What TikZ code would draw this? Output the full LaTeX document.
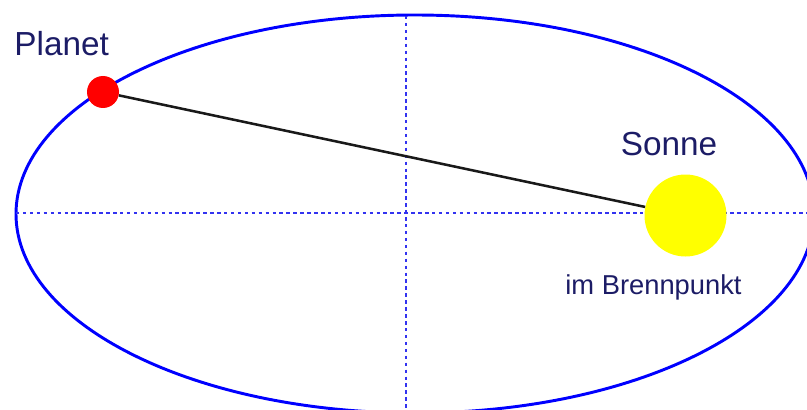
\documentclass[tikz,border=0pt]{standalone}
\usepackage{fontspec}
\setmainfont{Liberation Sans}
\usepackage{tikz}
\usetikzlibrary{positioning}
\definecolor{orbitblue}{HTML}{0000FF}
\definecolor{axisblue}{HTML}{3333F0}
\definecolor{planetred}{HTML}{FF0000}
\definecolor{sunyellow}{HTML}{FFFF00}
\definecolor{labelnavy}{HTML}{1C1C66}

\begin{document}
\begin{tikzpicture}[x=0.75pt, y=-0.75pt,
    axisline/.style={axisblue, line width=2pt, dash pattern=on 2.6pt off 2.6pt},
    lbl/.style={text=labelnavy, inner sep=0pt}]
  \useasboundingbox (0,0) rectangle (807,410);
  \clip (0,0) rectangle (807,410);
  % orbit with its two axes
  \draw[orbitblue, line width=2.2pt] (415,214) ellipse [x radius=399, y radius=199];
  \coordinate (axleft) at (16,213);
  \coordinate (axright) at (815,213);
  \coordinate (axtop) at (406,16);
  \coordinate (axbottom) at (406,415);
  \draw[axisline] (axleft) -- (axright);
  \draw[axisline] (axtop) -- (axbottom);
  % sun and planet
  \node[circle, fill=sunyellow, minimum size=61.5pt, inner sep=0pt] (sun) at (685.5,215.5) {};
  \node[circle, fill=planetred, minimum size=24pt, inner sep=0pt] (planet) at (103,92) {};
  \draw[line width=1.9pt, black!90] (planet) -- (sun);
  \node[lbl, font=\fontsize{25}{30}\selectfont, above=15pt of planet, xshift=-31pt] (planetlbl) {Planet};
  \node[lbl, font=\fontsize{25}{30}\selectfont, above=13.5pt of sun, xshift=-12.4pt] (sunlbl) {Sonne};
  \node[lbl, font=\fontsize{20.5}{24}\selectfont, below=13.5pt of sun, xshift=-24pt] (focuslbl) {im Brennpunkt};
\end{tikzpicture}
\end{document}
